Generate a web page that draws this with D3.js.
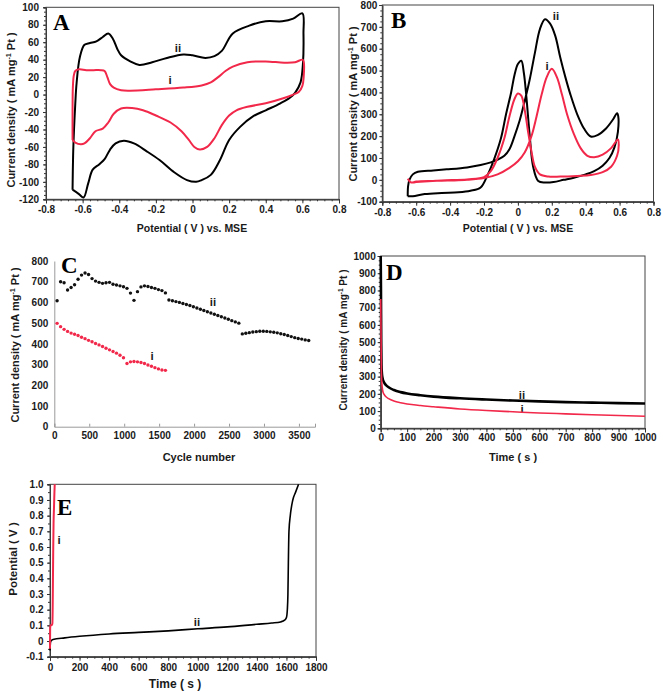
<!DOCTYPE html>
<html>
<head>
<meta charset="utf-8">
<script src="https://cdn.jsdelivr.net/npm/d3@7"></script>
<style>
  body { margin: 0; background: #fff; }
  svg { display: block; }
  text { font-family: "Liberation Sans", Arial, sans-serif; font-weight: bold; fill: #1a1a1a; }
  .tick text { font-size: 10px; }
  .letter { font-family: "Liberation Serif", "Times New Roman", serif; font-size: 23px; fill: #000; }
</style>
</head>
<body>
<svg id="fig" width="663" height="691"></svg>
<script>
// ---- data ----
// A: CV in H2SO4, [potential V, current density]
const cvA_ii = [[-0.655,-109],[-0.652,-70],[-0.647,-40],[-0.64,-10],[-0.633,13],[-0.615,43],[-0.59,57],[-0.56,59],[-0.525,61],[-0.49,66],[-0.46,70],[-0.435,64],[-0.41,52],[-0.39,45],[-0.34,38],[-0.29,34],[-0.22,37],[-0.14,42],[-0.05,46],[0.0,45],[0.07,42],[0.12,44],[0.16,50],[0.22,70],[0.31,79],[0.40,84],[0.49,84],[0.55,87],[0.6,93],[0.606,70],[0.603,35],[0.59,14],[0.56,2],[0.53,-4],[0.48,-10],[0.40,-18],[0.33,-25],[0.26,-37],[0.2,-52],[0.15,-75],[0.1,-92],[0.05,-98],[0.02,-100],[-0.03,-98],[-0.1,-89],[-0.18,-75],[-0.25,-65],[-0.32,-56],[-0.375,-53],[-0.42,-56],[-0.45,-63],[-0.48,-74],[-0.51,-80],[-0.545,-86],[-0.57,-102],[-0.595,-118],[-0.62,-114],[-0.655,-109]];
const cvA_i = [[-0.655,-52],[-0.655,-20],[-0.653,10],[-0.648,22],[-0.64,27],[-0.62,29],[-0.58,28],[-0.54,28],[-0.5,28],[-0.48,27],[-0.465,20],[-0.45,12],[-0.43,8],[-0.39,5],[-0.34,4.5],[-0.2,6],[-0.05,8],[0.05,10.5],[0.1,14],[0.14,20],[0.18,27],[0.22,32],[0.3,37],[0.4,38],[0.5,36.5],[0.56,37],[0.6,40],[0.607,38],[0.607,20],[0.6,10],[0.58,3],[0.55,0],[0.5,-4],[0.4,-10],[0.3,-14],[0.24,-18],[0.2,-24],[0.16,-35],[0.12,-50],[0.08,-60],[0.04,-63],[0.01,-60],[-0.02,-52],[-0.06,-42],[-0.12,-32],[-0.2,-24],[-0.27,-18],[-0.33,-15.5],[-0.39,-16],[-0.43,-22],[-0.46,-32],[-0.49,-39],[-0.53,-42],[-0.56,-50],[-0.59,-56],[-0.61,-57],[-0.64,-55],[-0.655,-52]];

// B: CV in methanol
const cvB_ii = [[-0.65,-75],[-0.648,-30],[-0.64,0],[-0.62,25],[-0.59,37],[-0.5,43],[-0.42,48],[-0.3,57],[-0.22,68],[-0.16,80],[-0.12,92],[-0.08,110],[-0.05,140],[-0.02,200],[0.01,270],[0.04,360],[0.07,460],[0.1,580],[0.13,690],[0.16,735],[0.19,715],[0.22,660],[0.25,560],[0.28,470],[0.31,390],[0.35,300],[0.39,235],[0.43,198],[0.47,205],[0.52,235],[0.56,275],[0.585,305],[0.592,290],[0.59,220],[0.57,150],[0.54,100],[0.5,65],[0.45,40],[0.4,25],[0.33,10],[0.27,0],[0.21,-10],[0.16,-12],[0.12,-5],[0.09,60],[0.07,200],[0.05,380],[0.035,490],[0.02,545],[0.0,530],[-0.02,480],[-0.04,400],[-0.07,300],[-0.1,190],[-0.14,95],[-0.18,20],[-0.22,-35],[-0.28,-50],[-0.35,-57],[-0.45,-60],[-0.55,-65],[-0.62,-75],[-0.65,-75]];
const cvB_i = [[-0.65,5],[-0.63,-12],[-0.6,-8],[-0.5,-5],[-0.4,-3],[-0.3,0],[-0.2,8],[-0.12,25],[-0.05,55],[0.0,85],[0.04,125],[0.08,200],[0.11,290],[0.14,390],[0.17,470],[0.2,508],[0.23,470],[0.26,390],[0.29,300],[0.33,210],[0.37,145],[0.41,110],[0.45,103],[0.5,115],[0.55,145],[0.59,185],[0.595,160],[0.585,110],[0.55,60],[0.5,35],[0.43,22],[0.35,18],[0.25,15],[0.18,15],[0.13,25],[0.1,60],[0.08,130],[0.06,220],[0.04,320],[0.02,385],[0.0,395],[-0.02,370],[-0.05,290],[-0.08,190],[-0.12,100],[-0.16,40],[-0.2,12],[-0.3,2],[-0.45,-3],[-0.6,-10],[-0.63,-12],[-0.65,5]];

// C: stability vs cycle number
const cycC_ii = [40,90,140,190,240,290,340,390,440,490,540,590,640,690,740,790,840,890,940,990,1040,1090,1140,1190,1240,1290,1340,1390,1440,1490,1540,1590,1640,1690,1740,1790,1840,1890,1940,1990,2040,2090,2140,2190,2240,2290,2340,2390,2440,2490,2540,2590,2640,2690,2740,2790,2840,2890,2940,2990,3040,3090,3140,3190,3240,3290,3340,3390,3440,3490,3540,3590,3640];
const curC_ii = [608,700,695,660,672,685,712,732,742,735,715,703,697,692,695,697,688,684,680,676,668,645,610,652,675,680,677,672,668,662,657,646,612,608,604,600,595,590,585,579,573,567,561,555,549,543,537,531,525,519,512,506,500,448,451,454,457,459,461,461,460,458,456,453,449,445,440,435,430,426,423,419,416];
const cycC_i = [40,90,140,190,240,290,340,390,440,490,540,590,640,690,740,790,840,890,940,990,1040,1090,1140,1190,1240,1290,1340,1390,1440,1490,1540,1590];
const curC_i = [499,483,470,460,452,446,440,432,425,417,410,402,395,387,379,371,363,355,345,333,305,313,315,313,310,305,298,292,285,279,274,272];

// D: chronoamperometry, time s
const timeD = [0,1,2,3,4,6,8,10,15,20,30,50,75,100,150,200,300,400,500,600,700,800,900,1000];
const curD_ii = [1000,800,500,370,330,300,285,275,260,251,238,222,210,202,192,184,174,167,161,156,152,149,146,144];
const curD_i = [750,600,420,320,270,235,215,205,192,183,172,158,148,141,132,125,112,103,96,89,84,79,74,70];

// E: chronopotentiometry, [time s, potential V]
const cpE_ii = [[0,-0.06],[3,-0.01],[6,0.0],[20,0.01],[100,0.02],[200,0.03],[400,0.045],[600,0.055],[800,0.065],[1000,0.078],[1200,0.09],[1400,0.107],[1500,0.115],[1560,0.122],[1590,0.135],[1600,0.15],[1606,0.2],[1610,0.3],[1613,0.5],[1617,0.7],[1626,0.8],[1643,0.9],[1662,0.95],[1682,1.0]];
const cpE_i = [[0,-0.05],[1,0.08],[3,0.1],[10,0.1],[16,0.11],[18,0.2],[20,0.4],[22,0.6],[24,0.75],[27,0.85],[30,0.95],[32,1.0]];

const RED = "#f2284a";
const svg = d3.select("#fig");

function dec(d) { return Math.abs(d) < 1e-9 ? "0" : d.toFixed(1); }
function steps(dom, step) {
  const n = Math.round((dom[1] - dom[0]) / step);
  return d3.range(n + 1).map(i => dom[0] + i * step);
}

function addPanel(p) {
  const x = d3.scaleLinear().domain(p.xDomain).range([p.left, p.right]);
  const y = d3.scaleLinear().domain(p.yDomain).range([p.bottom, p.top]);
  const g = svg.append("g");
  const col = p.plain ? "#9a9a9a" : "#333";

  if (!p.plain) {
    g.append("g").attr("transform", `translate(0,${p.bottom})`)
      .call(d3.axisBottom(x).tickValues(steps(p.xDomain, p.xMinor)).tickSize(2).tickFormat(""));
    g.append("g").attr("transform", `translate(${p.left},0)`)
      .call(d3.axisLeft(y).tickValues(steps(p.yDomain, p.yMinor)).tickSize(2).tickFormat(""));
  }
  g.append("g").attr("transform", `translate(0,${p.bottom})`)
    .call(d3.axisBottom(x).tickValues(p.xTicks).tickFormat(p.xFmt)
      .tickSizeOuter(0).tickSize(p.plain ? -3 : 4).tickPadding(p.xPad));
  g.append("g").attr("transform", `translate(${p.left},0)`)
    .call(d3.axisLeft(y).tickValues(p.yTicks).tickFormat(p.yFmt)
      .tickSizeOuter(0).tickSize(p.plain ? 0 : 3).tickPadding(p.yPad));
  g.selectAll(".domain, .tick line").attr("stroke", col);
  g.selectAll(".tick text").attr("fill", "#1a1a1a");

  if (!p.plain) {
    g.append("rect").attr("x", p.left).attr("y", p.top)
      .attr("width", p.right - p.left).attr("height", p.bottom - p.top)
      .attr("fill", "none").attr("stroke", "#444").attr("stroke-width", 1);
  }

  // axis titles
  g.append("text").attr("x", p.xTitle[0]).attr("y", p.xTitle[1])
    .attr("text-anchor", "middle").style("font-size", p.xTitleSize + "px").text(p.xLabel);
  const yt = g.append("text")
    .attr("transform", `translate(${p.yTitle[0]},${p.yTitle[1]}) rotate(-90)`)
    .attr("text-anchor", "middle").attr("dy", "0.35em").style("font-size", p.yTitleSize + "px");
  if (p.yLabel) {
    yt.text(p.yLabel);
  } else {
    yt.append("tspan").text("Current density ( mA mg");
    yt.append("tspan").attr("dy", -4).style("font-size", (p.yTitleSize * 0.65) + "px").text("-1");
    yt.append("tspan").attr("dy", 4).text(" Pt )");
  }

  g.append("text").attr("class", "letter").attr("x", p.letter[0]).attr("y", p.letter[1]).text(p.letter[2]);
  p.tags.forEach(t => {
    g.append("text").attr("x", t[0]).attr("y", t[1]).attr("text-anchor", "middle")
      .style("font-size", "11.5px").text(t[2]);
  });
  return { g, x, y };
}

// ---- A ----
const A = addPanel({
  left: 46, right: 339, top: 7.3, bottom: 199.3,
  xDomain: [-0.8, 0.8], yDomain: [-120, 100],
  xTicks: steps([-0.8, 0.8], 0.2), yTicks: steps([-120, 100], 20),
  xMinor: 0.04, yMinor: 5, xFmt: dec, yFmt: d => String(d), xPad: 3, yPad: 4,
  xLabel: "Potential ( V ) vs. MSE", xTitle: [192, 232], xTitleSize: 10.5,
  yTitle: [11, 110], yTitleSize: 11,
  letter: [53, 30, "A"], tags: [[178, 52, "ii"], [170, 84, "i"]]
});
const lineA = d3.line().x(d => A.x(d[0])).y(d => A.y(d[1])).curve(d3.curveCatmullRom.alpha(0.5));
A.g.append("path").attr("d", lineA(cvA_ii)).attr("fill", "none").attr("stroke", "#000").attr("stroke-width", 2);
A.g.append("path").attr("d", lineA(cvA_i)).attr("fill", "none").attr("stroke", RED).attr("stroke-width", 2);

// ---- B ----
const B = addPanel({
  left: 382.3, right: 653.5, top: 5, bottom: 201.7,
  xDomain: [-0.8, 0.8], yDomain: [-100, 800],
  xTicks: steps([-0.8, 0.8], 0.2), yTicks: steps([-100, 800], 100),
  xMinor: 0.04, yMinor: 25, xFmt: dec, yFmt: d => String(d), xPad: 3, yPad: 2,
  xLabel: "Potential ( V ) vs. MSE", xTitle: [518, 232], xTitleSize: 10.5,
  yTitle: [353, 104], yTitleSize: 11,
  letter: [391, 28, "B"], tags: [[556, 20, "ii"], [547, 70, "i"]]
});
const lineB = d3.line().x(d => B.x(d[0])).y(d => B.y(d[1])).curve(d3.curveCatmullRom.alpha(0.5));
B.g.append("path").attr("d", lineB(cvB_ii)).attr("fill", "none").attr("stroke", "#000").attr("stroke-width", 2);
B.g.append("path").attr("d", lineB(cvB_i)).attr("fill", "none").attr("stroke", RED).attr("stroke-width", 2);

// ---- C ----
const C = addPanel({
  plain: true,
  left: 54.3, right: 315, top: 261, bottom: 426.7,
  xDomain: [0, 3730], yDomain: [0, 800],
  xTicks: steps([0, 3500], 500), yTicks: steps([0, 800], 100),
  xFmt: d => String(d), yFmt: d => String(d), xPad: 5, yPad: 6,
  xLabel: "Cycle number", xTitle: [199, 461], xTitleSize: 11,
  yTitle: [15, 345], yTitleSize: 11,
  letter: [61, 273, "C"], tags: [[213, 306, "ii"], [152, 360, "i"]]
});
C.g.selectAll("circle.ii").data(d3.zip(cycC_ii, curC_ii)).join("circle")
  .attr("class", "ii").attr("cx", d => C.x(d[0])).attr("cy", d => C.y(d[1]))
  .attr("r", 1.7).attr("fill", "#111");
C.g.selectAll("circle.i").data(d3.zip(cycC_i, curC_i)).join("circle")
  .attr("class", "i").attr("cx", d => C.x(d[0])).attr("cy", d => C.y(d[1]))
  .attr("r", 1.7).attr("fill", RED);

// ---- D ----
const D = addPanel({
  left: 380.7, right: 645, top: 256, bottom: 428.3,
  xDomain: [0, 1000], yDomain: [0, 1000],
  xTicks: steps([0, 1000], 100), yTicks: steps([0, 1000], 100),
  xMinor: 25, yMinor: 25, xFmt: d => String(d), yFmt: d => String(d), xPad: 2, yPad: 2,
  xLabel: "Time ( s )", xTitle: [513, 461], xTitleSize: 11,
  yTitle: [343, 340], yTitleSize: 10,
  letter: [386, 280, "D"], tags: [[522, 399, "ii"], [522, 413, "i"]]
});
const lineD = d3.line().curve(d3.curveMonotoneX);
D.g.append("path").attr("d", lineD(d3.zip(timeD, curD_ii).map(d => [D.x(d[0]), D.y(d[1])])))
  .attr("fill", "none").attr("stroke", "#000").attr("stroke-width", 2.6);
D.g.append("path").attr("d", lineD(d3.zip(timeD, curD_i).map(d => [D.x(d[0]), D.y(d[1])])))
  .attr("fill", "none").attr("stroke", RED).attr("stroke-width", 1.6);

// ---- E ----
const E = addPanel({
  left: 50, right: 316, top: 484.3, bottom: 656.7,
  xDomain: [0, 1800], yDomain: [-0.1, 1.0],
  xTicks: steps([0, 1800], 200), yTicks: steps([-0.1, 1.0], 0.1),
  xMinor: 50, yMinor: 0.05, xFmt: d => String(d), yFmt: dec, xPad: 3, yPad: 3.5,
  xLabel: "Time ( s )", xTitle: [175, 688], xTitleSize: 12,
  yLabel: "Potential ( V )", yTitle: [13, 559], yTitleSize: 11.5,
  letter: [57, 515, "E"], tags: [[59, 544, "i"], [197, 626, "ii"]]
});
const lineE = d3.line().x(d => E.x(d[0])).y(d => E.y(d[1])).curve(d3.curveMonotoneX);
E.g.append("path").attr("d", lineE(cpE_ii)).attr("fill", "none").attr("stroke", "#000").attr("stroke-width", 1.6);
E.g.append("path").attr("d", lineE(cpE_i)).attr("fill", "none").attr("stroke", RED).attr("stroke-width", 2);
</script>
</body>
</html>
